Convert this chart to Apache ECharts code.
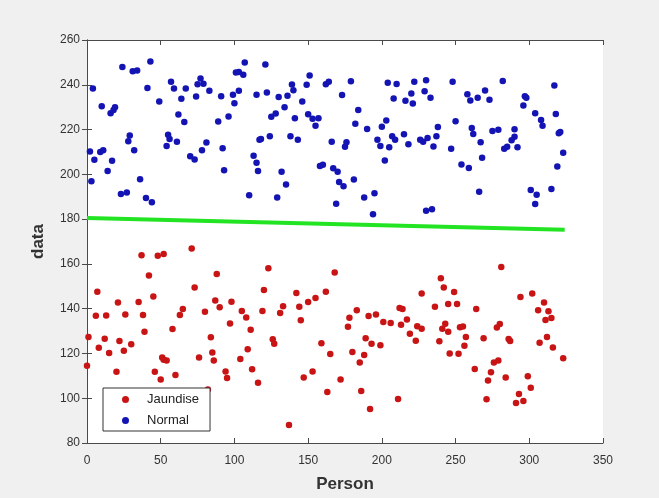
<!DOCTYPE html>
<html>
<head>
<meta charset="utf-8">
<script src="https://cdn.jsdelivr.net/npm/echarts@6/dist/echarts.min.js"></script>
<style>
  html, body { margin: 0; padding: 0; background: #f0f0f0; }
  #chart { width: 659px; height: 498px; }
</style>
</head>
<body>
<div id="chart"></div>
<script>
// tick values
const xTicks = [0, 50, 100, 150, 200, 250, 300, 350];
const yTicks = [80, 100, 120, 140, 160, 180, 200, 220, 240, 260];

// [person, value]
const normalPoints = [
  [4,238.3],[24,247.9],[31,246],[34,246.4],[43,250.4],[41,238.6],[10,230.4],[16,227.3],[18,228.7],[19,230],
  [49,232.5],[57,241.3],[59,238.3],[67,238.3],[64,233.8],[62,226.7],[66,223.4],[74,234.8],[75,240.2],[77,242.8],
  [79,240.5],[83,237.3],[91,234.9],[89,223.6],[96,225.8],[99,235.5],[100,231.8],[103,237.3],[101,245.5],[103,245.7],
  [106,244.5],[107,250],[115,235.5],[2,210.2],[5,206.5],[9,210],[11,210.8],[3,196.9],[17,206.1],[14,201.5],
  [29,217.4],[28,214.8],[32,210.8],[36,197.8],[23,191.2],[27,191.9],[40,189.4],[44,187.5],[55,217.7],[56,215.8],
  [54,212.6],[61,214.6],[70,208.1],[73,206.6],[78,210.8],[81,214.2],[92,211.7],[93,201.8],[110,190.7],[117,215.5],
  [113,208.3],[115,205.2],[116,201.5],
  [121,249.1],[151,244.1],[122,236.6],[130,234.5],[136,235.1],[139,240.1],[140,237.6],[149,240],[162,240.2],[164,241.3],
  [179,241.6],[173,235.4],[146,232.5],[134,230],[125,225.7],[128,227.2],[141,225],[150,226.8],[153,224.8],[157,225.1],
  [155,221.7],[184,228.7],[182,222.6],[190,220.3],[118,215.8],[124,217],[138,217],[143,215.5],[166,214.6],[176,214.3],
  [175,212.3],[132,201.1],[135,195.5],[129,189.7],[158,203.7],[160,204.3],[167,202.7],[170,201.1],[171,196.6],[174,194.7],
  [181,197.7],[169,186.9],[188,189.6],[195,191.5],[194,182.2],[202,206.2],[204,240.9],[210,240.4],[208,233.9],[216,232.9],
  [221,231.6],[220,236.1],[222,241.3],[229,237.1],[230,242],[203,224],[200,221.2],[197,215.4],[199,212.6],[205,212.1],
  [207,217],[209,215.4],[215,217.9],[218,213.4],[226,215.4],[228,214.5],[231,216.2],[230,183.7],
  [233,234.2],[248,241.3],[282,241.7],[317,239.7],[258,235.8],[260,233],[265,234.2],[270,237.5],[273,233.3],[297,234.9],
  [298,234.2],[296,230.8],[304,227.3],[308,224.3],[309,221.7],[318,227],[250,223.7],[238,221.1],[237,217],[235,212.4],
  [247,211.4],[261,220.7],[262,218],[267,214.3],[268,207.4],[275,219.3],[279,219.9],[290,220.1],[290,216.8],[288,215.2],
  [283,211.4],[285,212.3],[292,212.1],[254,204.4],[259,202.8],[320,218.3],[321,218.9],[323,209.6],[319,203.5],[266,192.2],
  [301,193],[305,190.9],[304,186.8],[315,193.4],[234,184.4]
];

const jaundisePoints = [
  [37,163.9],[48,163.6],[52,164.4],[71,166.9],[42,154.8],[88,155.5],[73,149.5],[7,147.6],[45,145.4],[21,142.7],
  [35,143],[87,143.7],[90,140.6],[98,143.1],[65,139.9],[63,137.2],[80,138.6],[105,139],[108,136.1],[6,136.8],
  [13,137],[26,137.4],[38,137.2],[97,133.4],[111,130.6],[39,129.7],[58,130.9],[1,127.4],[12,126.6],[22,125.6],
  [30,124.1],[84,127.2],[8,122.5],[25,121.2],[15,120.2],[85,120.4],[86,116.9],[109,121.9],[51,118.2],[52,117.2],
  [54,116.8],[76,118.2],[104,117.5],[0,114.5],[112,112.9],[20,111.8],[46,111.8],[60,110.4],[94,111.9],[95,109],
  [50,108.4],[116,106.9],[82,103.9],
  [123,158],[168,156.1],[120,148.3],[142,147],[162,147.6],[150,143],[155,144.8],[133,141.1],[144,140.9],[119,139],
  [131,138.1],[145,134.8],[126,126.3],[127,124.3],[159,124.6],[165,119.7],[147,109.2],[153,111.9],[172,108.4],[163,102.8],
  [137,88],[178,135.9],[177,131.9],[183,139.3],[191,136.7],[196,137.4],[201,134],[206,133.6],[212,140.3],[214,139.9],
  [217,135.2],[213,132.8],[224,132.1],[227,131],[219,128.8],[223,125.7],[227,146.8],[189,126.8],[193,124.3],[199,123.7],
  [180,120.6],[188,119.3],[185,116],[186,103.2],[192,95.2],[211,99.6],
  [281,158.6],[240,153.6],[242,149.5],[249,147.4],[294,145.2],[302,146.8],[236,140.9],[245,142.1],[251,142.1],[264,139.9],
  [310,142.8],[306,139.3],[313,138.9],[311,134.9],[315,135.8],[243,133.3],[241,131],[245,129.7],[253,131.7],[255,132],
  [257,127.3],[278,131.6],[280,133.2],[239,125.5],[269,126.8],[286,126.5],[287,125.6],[312,127.3],[307,124.8],[256,123.4],
  [246,120],[252,119.9],[316,122.6],[323,117.8],[276,116],[279,116.9],[263,113],[274,111.6],[272,107.9],[284,109.2],
  [299,109.8],[301,104.7],[271,99.5],[293,101.9],[291,97.9],[296,98.8]
];

// separating line
const lineX = [0, 324];
const lineY = [180.5, 175.3];

const axisColor = "#4a4a4a";
const labelColor = "#333";
const font = "Liberation Sans, Arial, sans-serif";

function boxAxis(pos, ticks) {
  return {
    type: "value",
    position: pos,
    min: ticks[0],
    max: ticks[ticks.length - 1],
    interval: ticks[1] - ticks[0],
    axisLine: { show: true, lineStyle: { color: axisColor, width: 1 } },
    axisTick: { show: true, inside: true, length: 5, lineStyle: { color: axisColor } },
    axisLabel: { show: false },
    splitLine: { show: false }
  };
}

let myChart = echarts.init(document.getElementById("chart"));
myChart.setOption({
  backgroundColor: "#f0f0f0",
  animation: false,
  grid: {
    left: 87,
    right: 56,
    top: 40,
    bottom: 50,
    show: true,
    backgroundColor: "#fff",
    borderWidth: 0
  },
  legend: {
    data: ["Jaundise", "Normal"],
    orient: "vertical",
    left: 103,
    top: 388,
    icon: "circle",
    itemWidth: 7,
    itemHeight: 7,
    itemGap: 8,
    padding: [5, 11, 4, 19],
    backgroundColor: "#fff",
    borderColor: "#333",
    borderWidth: 1,
    borderRadius: 0,
    textStyle: { fontFamily: font, fontSize: 13, color: "#222", lineHeight: 13, padding: [0, 0, 0, 13] }
  },
  xAxis: [
    {
      type: "value",
      min: xTicks[0],
      max: xTicks[xTicks.length - 1],
      interval: xTicks[1] - xTicks[0],
      name: "Person",
      nameLocation: "middle",
      nameGap: 33,
      nameTextStyle: { fontFamily: font, fontSize: 17, fontWeight: "bold", color: labelColor },
      axisLine: { show: true, lineStyle: { color: axisColor, width: 1 } },
      axisTick: { show: true, inside: true, length: 5, lineStyle: { color: axisColor } },
      axisLabel: { fontFamily: font, fontSize: 12, color: labelColor, margin: 12 },
      splitLine: { show: false }
    },
    boxAxis("top", xTicks)
  ],
  yAxis: [
    {
      type: "value",
      min: yTicks[0],
      max: yTicks[yTicks.length - 1],
      interval: yTicks[1] - yTicks[0],
      name: "data",
      nameLocation: "middle",
      nameGap: 40,
      nameTextStyle: { fontFamily: font, fontSize: 17, fontWeight: "bold", color: labelColor },
      axisLine: { show: true, lineStyle: { color: axisColor, width: 1 } },
      axisTick: { show: true, inside: true, length: 5, lineStyle: { color: axisColor } },
      axisLabel: { fontFamily: font, fontSize: 12, color: labelColor, margin: 7 },
      splitLine: { show: false }
    },
    boxAxis("right", yTicks)
  ],
  series: [
    {
      name: "Jaundise",
      type: "scatter",
      symbol: "circle",
      symbolSize: 6.5,
      itemStyle: { color: "#c81414", opacity: 1 },
      data: jaundisePoints,
      z: 3
    },
    {
      name: "Normal",
      type: "scatter",
      symbol: "circle",
      symbolSize: 6.5,
      itemStyle: { color: "#1414b4", opacity: 1 },
      data: normalPoints,
      z: 3
    },
    {
      name: "line",
      type: "line",
      symbol: "none",
      lineStyle: { color: "#22e422", width: 4 },
      data: lineX.map((x, i) => [x, lineY[i]]),
      z: 2
    }
  ]
});
</script>
</body>
</html>
